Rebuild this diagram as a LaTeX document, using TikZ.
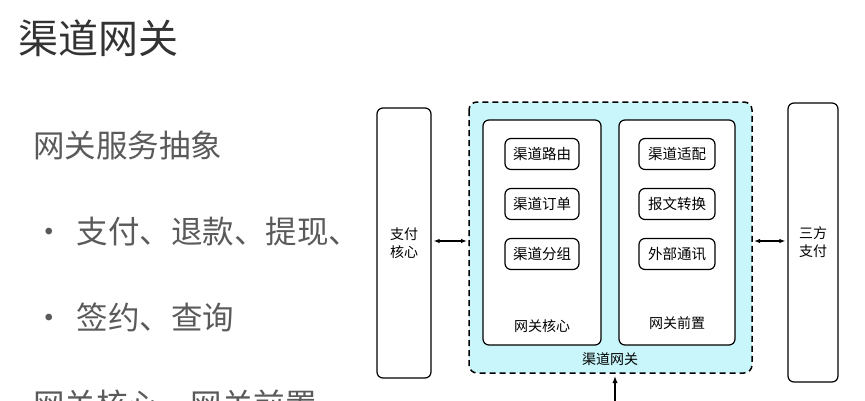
\documentclass[tikz,border=0pt]{standalone}
\usepackage{fontspec}
\newfontfamily\cjk{Noto Sans CJK SC}
\usetikzlibrary{arrows.meta}
\definecolor{cyanbg}{HTML}{C8F6FA}
\definecolor{txtg}{HTML}{5A5A5A}
\tikzset{
  every node/.style={font=\cjk},
  tall/.style={draw, line width=1.2pt, rounded corners=6pt, fill=white},
  panel/.style={draw, line width=1.2pt, rounded corners=6pt, fill=white},
  item/.style={draw, line width=1.2pt, rounded corners=6pt, fill=white, minimum width=74pt, minimum height=31pt, inner sep=0pt, font=\cjk\fontsize{14.5}{16}\selectfont},
  lbl/.style={font=\cjk\fontsize{14}{18}\selectfont},
  bi/.style={{Latex[length=6pt]}-{Latex[length=6pt]}, line width=1.3pt},
  big/.style={anchor=west, text=txtg, font=\cjk\fontsize{31.5}{34}\selectfont, inner sep=0pt}
}
\begin{document}
\begin{tikzpicture}[x=1pt,y=-1pt]
\useasboundingbox (0,0) rectangle (865,400);
\clip (0,0) rectangle (865,400);
\node[big, text=black!80, font=\cjk\fontsize{40}{44}\selectfont] (title) at (18,38) {渠道网关};
\node[big] (t1) at (33,145) {网关服务抽象};
\node[big] (t2) at (33,232) {·\hspace{12pt}支付、退款、提现、};
\node[big] (t3) at (33,317) {·\hspace{12pt}签约、查询};
\node[big] (t4) at (33,404) {网关核心、网关前置};
% gateway
\draw[dashed, dash pattern=on 6pt off 4pt, line width=1.5pt, rounded corners=8pt, fill=cyanbg] (469,102) rectangle (752,373);
\node[tall, minimum width=54pt, minimum height=270pt] (pc) at (404,243) {};
\node[lbl, align=center] at (pc) {支付\\核心};
\node[tall, minimum width=50pt, minimum height=279pt] (tp) at (813,242.5) {};
\node[lbl, align=center] at (tp) {三方\\支付};
\draw[panel] (483,120) rectangle (601,345);
\draw[panel] (619,120) rectangle (735,345);
\node[item] (a1) at (542,154) {渠道路由};
\node[item] (a2) at (542,204) {渠道订单};
\node[item] (a3) at (542,254) {渠道分组};
\node[item, minimum width=76pt] (b1) at (677,154) {渠道适配};
\node[item, minimum width=76pt] (b2) at (677,204) {报文转换};
\node[item, minimum width=76pt] (b3) at (677,254) {外部通讯};
\node[lbl] (lc) at (542,326) {网关核心};
\node[lbl] (lf) at (677,323) {网关前置};
\node[lbl] (gw) at (610,359) {渠道网关};
\coordinate (gl) at (467,241);
\coordinate (gr) at (754,241);
\coordinate (gb) at (615,376);
\coordinate (bot) at (615,402);
\draw[bi] (pc.east |- gl) ++(2,0) -- (gl);
\draw[bi] (gr) -- ([xshift=-2pt]tp.west |- gr);
\draw[-{Latex[length=7pt]}, line width=1.3pt] (bot) -- (gb);
\end{tikzpicture}
\end{document}
